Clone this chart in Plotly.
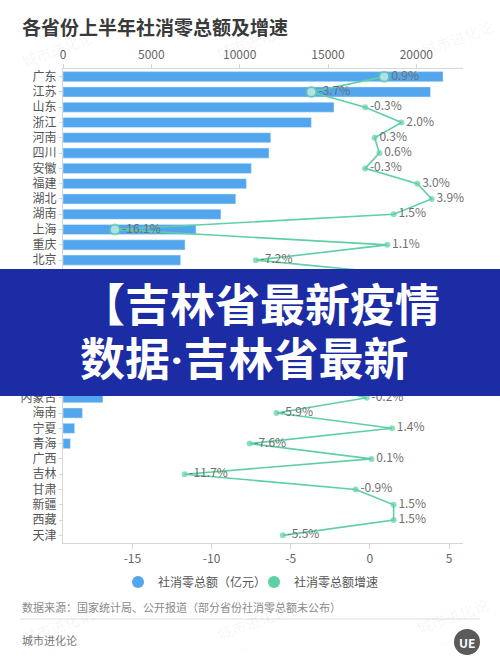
"""各省份上半年社消零总额及增速 - horizontal bars with growth line overlay."""

import plotly.graph_objects as go

# ---- data -------------------------------------------------------------
provinces = [
    "广东", "江苏", "山东", "浙江", "河南", "四川", "安徽", "福建", "湖北", "湖南",
    "上海", "重庆", "北京", "河北", "江西", "陕西", "云南", "辽宁", "贵州", "山西",
    "黑龙江", "内蒙古", "海南", "宁夏", "青海", "广西", "吉林", "甘肃", "新疆", "西藏",
    "天津",
]
retail_total = [
    21510, 20800, 15340, 14060, 11760, 11660, 10660, 10380, 9780, 8940,
    7530, 6910, 6660, 6450, 5960, 4850, 4760, 4420, 3820, 3660,
    2380, 2260, 1100, 660, 420, None, None, None, None, None,
    None,
]
retail_growth = [
    0.9, -3.7, -0.3, 2.0, 0.3, 0.6, -0.3, 3.0, 3.9, 1.5,
    -16.1, 1.1, -7.2, 2.8, 4.6, 1.5, -0.8, -5.9, -1.9, 1.6,
    -4.2, -0.2, -5.9, 1.4, -7.6, 0.1, -11.7, -0.9, 1.5, 1.5,
    -5.5,
]
highlighted = ["广东", "江苏", "上海"]
top_ticks = [0, 5000, 10000, 15000, 20000]
bottom_ticks = [-15, -10, -5, 0, 5]

BLUE = "#52a6ee"
GREEN = "#5fd0a5"
FONT = "Noto Sans CJK SC"

W, H = 500, 666
M_L, M_R, M_T, M_B = 63, 37, 69, 123


def px(x, y):
    """pixel position on the page -> paper coordinates"""
    pw = W - M_L - M_R
    ph = H - M_T - M_B
    return (x - M_L) / pw, (H - M_B - y) / ph


fig = go.Figure()

fig.add_trace(
    go.Bar(
        y=provinces,
        x=retail_total,
        orientation="h",
        marker_color=BLUE,
        xaxis="x",
        yaxis="y",
        showlegend=False,
    )
)

hl = [p in highlighted for p in provinces]
fig.add_trace(
    go.Scatter(
        y=provinces,
        x=retail_growth,
        mode="lines+markers+text",
        line=dict(color=GREEN, width=1.6),
        marker=dict(
            color=["#d8f6ea" if h else GREEN for h in hl],
            size=[10 if h else 6 for h in hl],
            line=dict(color=GREEN, width=[2 if h else 0 for h in hl]),
        ),
        text=[f"{v:.1f}%" for v in retail_growth],
        textposition="middle right",
        textfont=dict(color="#707070", size=12, family=FONT),
        xaxis="x2",
        yaxis="y",
        showlegend=False,
        cliponaxis=False,
    )
)

# legend entries with round markers
fig.add_trace(go.Scatter(x=[None], y=[None], mode="markers", name="社消零总额（亿元）",
                         marker=dict(color=BLUE, size=11), xaxis="x2"))
fig.add_trace(go.Scatter(x=[None], y=[None], mode="markers", name="社消零总额增速",
                         marker=dict(color=GREEN, size=11), xaxis="x2"))

annotations = []
shapes = []


def note(x, y, text, size, color, anchor="left", **kw):
    ax, ay = px(x, y)
    annotations.append(dict(x=ax, y=ay, xref="paper", yref="paper", xanchor=anchor,
                            yanchor="middle", showarrow=False, text=text,
                            font=dict(size=size, color=color, family=FONT), **kw))


# title
note(20, 27, "<b>各省份上半年社消零总额及增速</b>", 19, "#3a3a3a")

# source + footer
note(20, 607, "数据来源：国家统计局、公开报道（部分省份社消零总额未公布）", 11, "#8a8a8a")
lx0, ly = px(20, 619)
lx1, _ = px(480, 619)
shapes.append(dict(type="line", xref="paper", yref="paper", x0=lx0, x1=lx1, y0=ly, y1=ly,
                   line=dict(color="#dddddd", width=1)))
note(20, 640, "城市进化论", 11, "#777777")

# logo
cx0, cy0 = px(454, 629)
cx1, cy1 = px(480, 655)
shapes.append(dict(type="circle", xref="paper", yref="paper", x0=cx0, x1=cx1, y0=cy1, y1=cy0,
                   fillcolor="#5a5a5a", line=dict(width=0)))
note(467, 642, "<b>UE</b>", 12, "white", anchor="center")

# faint watermarks
for wx, wy in [(60, 58), (255, 50), (460, 46), (60, 634), (255, 630), (455, 624)]:
    note(wx, wy, "城市进化论<br><span style='font-size:6px'>URBAN EVOLUTION</span>",
         15, "rgba(0,0,0,0.05)", anchor="center", textangle=-20)

# overlay banner
bx0, by0 = px(0, 269)
bx1, by1 = px(500, 396)
shapes.append(dict(type="rect", xref="paper", yref="paper", x0=bx0, x1=bx1, y0=by1, y1=by0,
                   fillcolor="#1b2ca4", line=dict(width=0), layer="above"))
note(78, 302, "<b>【吉林省最新疫情</b>", 45, "white")
note(78, 356, "<b>数据<span style='font-family:Roboto'>·</span>吉林省最新</b>", 45, "white")

axis_common = dict(
    showgrid=False,
    zeroline=False,
    showline=True,
    linecolor="#d6d6d6",
    ticks="outside",
    tickcolor="#d6d6d6",
    automargin=False,
    fixedrange=True,
)

fig.update_layout(
    width=W,
    height=H,
    margin=dict(l=M_L, r=M_R, t=M_T, b=M_B, autoexpand=False),
    plot_bgcolor="white",
    paper_bgcolor="white",
    font=dict(family=FONT, color="#666666", size=12),
    bargap=0.34,
    xaxis=dict(
        side="top",
        range=[0, 22640],
        tickmode="array",
        tickvals=top_ticks,
        ticktext=[str(v) for v in top_ticks],
        ticklen=4,
        tickfont=dict(size=12, color="#666666"),
        **axis_common,
    ),
    xaxis2=dict(
        overlaying="x",
        side="bottom",
        range=[-19.38, 5.88],
        tickmode="array",
        tickvals=bottom_ticks,
        ticktext=[str(v) for v in bottom_ticks],
        ticklen=5,
        tickfont=dict(size=12, color="#666666"),
        **axis_common,
    ),
    yaxis=dict(
        type="category",
        categoryorder="array",
        categoryarray=provinces,
        range=[len(provinces) - 0.5, -0.5],
        tickmode="array",
        tickvals=provinces,
        ticktext=provinces,
        ticklen=3,
        tickfont=dict(size=12, color="#555555"),
        **axis_common,
    ),
    legend=dict(
        orientation="h",
        x=px(254, 0)[0],
        xanchor="center",
        y=px(0, 582)[1],
        yanchor="middle",
        entrywidth=91,
        font=dict(size=12, color="#555555", family=FONT),
        itemsizing="constant",
    ),
    annotations=annotations,
    shapes=shapes,
)

fig.write_html(
    "out.html",
    config={"displayModeBar": False},
    post_script="document.body.style.margin='0';",
)
